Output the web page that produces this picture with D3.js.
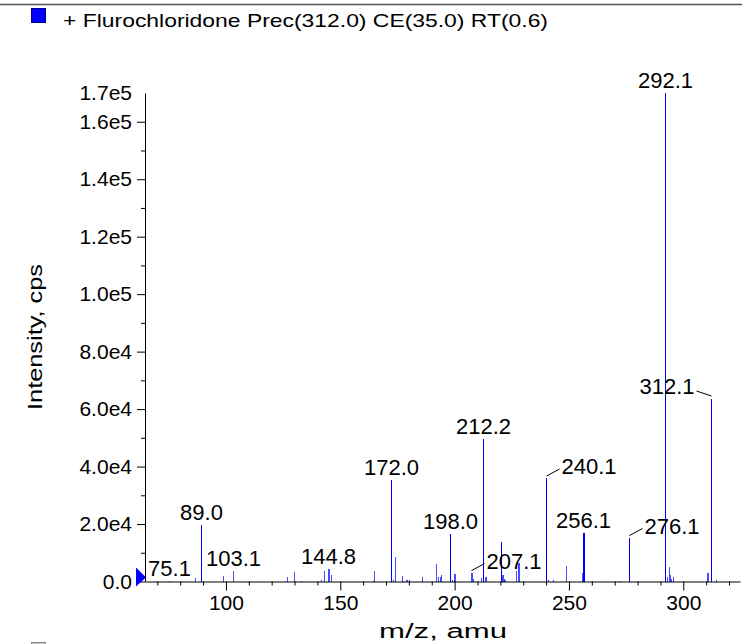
<!DOCTYPE html>
<html>
<head>
<meta charset="utf-8">
<script src="https://cdn.jsdelivr.net/npm/d3@7"></script>
<style>
  body { margin: 0; background: #fff; }
  svg { display: block; font-family: "Liberation Sans", Arial, Helvetica, sans-serif; }
  .peak { stroke: #0000ff; stroke-width: 1px; shape-rendering: crispEdges; }
  .peak.minor { stroke: #4a4aff; }
</style>
</head>
<body>
<svg id="spectrum" width="742" height="644"></svg>
<script>
// peaks: m/z and intensity (cps)
var peakMz = [75.1, 86.5, 89.0, 98.8, 103.1, 126.7, 129.9, 133.0, 141.7, 143.0, 144.8, 145.2, 146.1,
  164.2, 164.9, 172.0, 173.2, 174.1, 176.8, 177.6, 178.7, 179.3, 180.1, 185.9, 191.9, 192.9, 193.5, 194.2,
  198.0, 199.0, 199.7, 200.2, 207.1, 207.5, 207.9, 211.6, 212.2, 213.4, 213.9, 220.2, 220.6, 221.0, 221.5,
  222.0, 227.0, 227.9, 228.3, 240.1, 241.0, 243.2, 248.6, 255.5, 256.1, 256.5, 272.0, 276.1, 292.1, 293.0,
  293.9, 294.3, 294.7, 295.6, 310.3, 310.8, 312.1, 314.2];
var peakInt = [300, 1300, 19700, 2000, 3800, 1600, 3300, 300, 500, 3800, 4400, 4400, 2200,
  300, 3700, 35200, 500, 8500, 1900, 300, 500, 500, 500, 1600, 6200, 1600, 1600, 2300,
  16400, 500, 2500, 2500, 3100, 3100, 800, 1250, 49600, 1600, 1600, 13700, 2200, 2200, 700,
  500, 3800, 6600, 6600, 36000, 400, 400, 5400, 3100, 17000, 16800, 300, 15300, 170000, 1700,
  5000, 2300, 800, 1700, 3100, 3100, 63500, 500];

// labelled peaks
var labelMz = [75.1, 89.0, 103.1, 144.8, 172.0, 198.0, 207.1, 212.2, 240.1, 256.1, 276.1, 292.1, 312.1];
var labelText = ["75.1", "89.0", "103.1", "144.8", "172.0", "198.0", "207.1", "212.2", "240.1", "256.1", "276.1", "292.1", "312.1"];
var leaderSide = { "207.1": "right", "240.1": "right", "276.1": "right", "312.1": "left" };

var yTicks = [0, 2e4, 4e4, 6e4, 8e4, 1e5, 1.2e5, 1.4e5, 1.6e5];
var yMinorTicks = [1e4, 3e4, 5e4, 7e4, 9e4, 1.1e5, 1.3e5, 1.5e5];
var yMax = 1.7e5;
var xTicks = [100, 150, 200, 250, 300];
var xMinorTicks = d3.range(70, 330, 10).filter(function (d) { return d % 50 !== 0; });

var title = "+ Flurochloridone Prec(312.0) CE(35.0) RT(0.6)";

var svg = d3.select("#spectrum");

var x = d3.scaleLinear().domain([64.6, 324.8]).range([145, 740]);
var y = d3.scaleLinear().domain([0, yMax]).range([581.5, 93]);

function sci(v) {
  if (v === 0) return "0.0";
  var e = Math.floor(Math.log10(v));
  return (v / Math.pow(10, e)).toFixed(1) + "e" + e;
}

// top frame line + legend
svg.append("line").attr("x1", 0).attr("x2", 742).attr("y1", 4.5).attr("y2", 4.5)
  .attr("stroke", "#555").attr("stroke-width", 1.5);
svg.append("rect").attr("x", 31.5).attr("y", 8.5).attr("width", 14).attr("height", 14)
  .attr("fill", "#0000ff").attr("stroke", "#00008b");
svg.append("text").attr("x", 63).attr("y", 27).attr("font-size", 19)
  .attr("textLength", 485).attr("lengthAdjust", "spacingAndGlyphs").attr("fill", "#000").text(title);

// next panel legend peeking in at the bottom
svg.append("rect").attr("x", 31.5).attr("y", 642.5).attr("width", 14).attr("height", 14)
  .attr("fill", "#c8c8c8").attr("stroke", "#888");

// peaks
var peaks = peakMz.map(function (m, i) { return { mz: m, v: peakInt[i] }; });
svg.append("g").selectAll("line").data(peaks).enter().append("line")
  .attr("class", function (d) { return d.v > 9000 ? "peak" : "peak minor"; })
  .attr("x1", function (d) { return Math.round(x(d.mz)) + 0.5; })
  .attr("x2", function (d) { return Math.round(x(d.mz)) + 0.5; })
  .attr("y1", y(0))
  .attr("y2", function (d) { return y(d.v); });

// axes
var gx = svg.append("g").attr("transform", "translate(0," + y(0) + ")");
gx.call(d3.axisBottom(x).tickValues(xTicks).tickSize(9).tickPadding(5).tickSizeOuter(0));
gx.append("g").call(d3.axisBottom(x).tickValues(xMinorTicks).tickSize(4).tickFormat("").tickSizeOuter(0))
  .select(".domain").remove();

var gy = svg.append("g").attr("transform", "translate(145,0)");
gy.call(d3.axisLeft(y).tickValues(yTicks).tickFormat(sci).tickSize(8).tickPadding(5).tickSizeOuter(0));
gy.append("g").call(d3.axisLeft(y).tickValues(yMinorTicks).tickSize(4).tickFormat("").tickSizeOuter(0))
  .select(".domain").remove();
gy.append("text").attr("x", -13).attr("y", y(yMax)).attr("dy", "0.32em")
  .attr("text-anchor", "end").attr("fill", "#000").text(sci(yMax));

gx.selectAll(".domain, .tick line").attr("stroke", "#000");
gy.selectAll(".domain, .tick line").attr("stroke", "#000");
svg.selectAll(".tick text").attr("fill", "#000");
gx.selectAll("text").attr("font-size", 21).attr("font-family", "Liberation Sans, Arial, sans-serif");
gy.selectAll("text").attr("font-size", 21).attr("font-family", "Liberation Sans, Arial, sans-serif");

// marker on the y axis at zero
svg.append("path")
  .attr("d", "M136," + (y(0) - 14) + "L146," + (y(0) - 4) + "L136," + (y(0) + 5) + "Z")
  .attr("fill", "#0000ff");

// axis titles
svg.append("text").attr("x", 443).attr("y", 638).attr("text-anchor", "middle")
  .attr("font-size", 20).attr("textLength", 128).attr("lengthAdjust", "spacingAndGlyphs")
  .text("m/z, amu");
svg.append("text").attr("transform", "translate(42,337) rotate(-90)").attr("text-anchor", "middle")
  .attr("font-size", 20).attr("textLength", 146).attr("lengthAdjust", "spacingAndGlyphs")
  .text("Intensity, cps");

// peak labels
var intAt = {};
peaks.forEach(function (p) { if (intAt[p.mz] === undefined || p.v > intAt[p.mz]) intAt[p.mz] = p.v; });
var labels = labelMz.map(function (m, i) { return { mz: m, text: labelText[i], v: intAt[m] }; });
var gl = svg.append("g").attr("font-size", 22).attr("fill", "#000");
labels.forEach(function (d) {
  var px = Math.round(x(d.mz)) + 0.5, py = y(d.v);
  var side = leaderSide[d.text];
  if (side === "right") {
    gl.append("line").attr("x1", px).attr("y1", py - 2).attr("x2", px + 13).attr("y2", py - 9)
      .attr("stroke", "#000");
    gl.append("text").attr("x", px + 15).attr("y", py - 4).text(d.text);
  } else if (side === "left") {
    gl.append("line").attr("x1", px).attr("y1", py - 3).attr("x2", px - 15).attr("y2", py - 8)
      .attr("stroke", "#000");
    gl.append("text").attr("x", px - 17).attr("y", py - 5).attr("text-anchor", "end").text(d.text);
  } else {
    gl.append("text").attr("x", px).attr("y", py - 5).attr("text-anchor", "middle").text(d.text);
  }
});
</script>
</body>
</html>
